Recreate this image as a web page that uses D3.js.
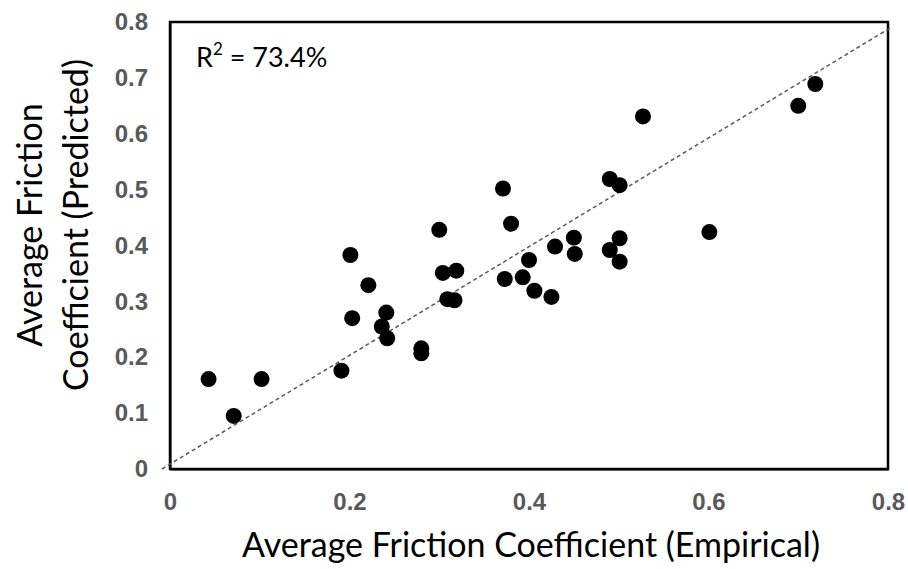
<!DOCTYPE html>
<html>
<head>
<meta charset="utf-8">
<script src="https://cdn.jsdelivr.net/npm/d3@7"></script>
<style>
  html, body { margin: 0; padding: 0; background: #fff; }
  svg { display: block; }
</style>
</head>
<body>
<svg id="chart" width="908" height="569"></svg>
<script>
// Empirical vs predicted average friction coefficient
const empirical = [
  0.043, 0.071, 0.102, 0.191, 0.201, 0.203, 0.221, 0.236, 0.241, 0.242,
  0.280, 0.280, 0.300, 0.304, 0.319, 0.309, 0.317, 0.371, 0.380, 0.373,
  0.400, 0.393, 0.406, 0.425, 0.429, 0.450, 0.451, 0.490, 0.501, 0.501,
  0.490, 0.501, 0.527, 0.601, 0.700, 0.719
];
const predicted = [
  0.161, 0.095, 0.161, 0.176, 0.383, 0.270, 0.329, 0.255, 0.280, 0.234,
  0.216, 0.207, 0.428, 0.351, 0.355, 0.304, 0.302, 0.502, 0.439, 0.340,
  0.374, 0.343, 0.319, 0.308, 0.398, 0.414, 0.385, 0.519, 0.508, 0.413,
  0.392, 0.371, 0.631, 0.424, 0.650, 0.689
];
// fitted dashed line end points
const fitLine = [[-0.009, 0.0], [0.802, 0.789]];
const xTicks = [0, 0.2, 0.4, 0.6, 0.8];
const yTicks = [0, 0.1, 0.2, 0.3, 0.4, 0.5, 0.6, 0.7, 0.8];
const rSquared = "73.4%";

const svg = d3.select("#chart");
const plot = { left: 170, right: 888, top: 22, bottom: 469 };

const x = d3.scaleLinear().domain([0, 0.8]).range([plot.left, plot.right]);
const y = d3.scaleLinear().domain([0, 0.8]).range([plot.bottom, plot.top]);

const tickFont = "'Liberation Sans', Arial, sans-serif";
const titleFont = "Lato, 'Open Sans', sans-serif";
const fmt = d => d === 0 ? "0" : d3.format(".1f")(d);

// x axis
const xAxis = svg.append("g")
    .attr("transform", `translate(0,${plot.bottom})`)
    .call(d3.axisBottom(x).tickValues(xTicks).tickSize(0).tickPadding(24).tickFormat(fmt));
xAxis.select(".domain").attr("stroke", "#7f7f7f").attr("stroke-width", 3);
xAxis.selectAll("text")
    .attr("font-family", tickFont).attr("font-weight", "bold")
    .attr("font-size", 24).attr("fill", "#595959");

// y axis
const yAxis = svg.append("g")
    .attr("transform", `translate(${plot.left},0)`)
    .call(d3.axisLeft(y).tickValues(yTicks).tickSize(0).tickPadding(22).tickFormat(fmt));
yAxis.select(".domain").attr("stroke", "#7f7f7f").attr("stroke-width", 3);
yAxis.selectAll("text")
    .attr("font-family", tickFont).attr("font-weight", "bold")
    .attr("font-size", 24).attr("fill", "#595959");

// plot area border
svg.append("rect")
    .attr("x", plot.left).attr("y", plot.top)
    .attr("width", plot.right - plot.left).attr("height", plot.bottom - plot.top)
    .attr("fill", "none").attr("stroke", "#000").attr("stroke-width", 2.5);

// dashed fit line
svg.append("line")
    .attr("x1", x(fitLine[0][0])).attr("y1", y(fitLine[0][1]))
    .attr("x2", x(fitLine[1][0])).attr("y2", y(fitLine[1][1]))
    .attr("stroke", "#595959").attr("stroke-width", 1.5)
    .attr("stroke-dasharray", "4,3");

// points
svg.append("g").selectAll("circle")
    .data(empirical.map((e, i) => [e, predicted[i]]))
    .join("circle")
    .attr("cx", d => x(d[0]))
    .attr("cy", d => y(d[1]))
    .attr("r", 8)
    .attr("fill", "#000");

// R squared label
const r2 = svg.append("text")
    .attr("x", 196).attr("y", 67)
    .attr("font-family", titleFont).attr("font-size", 27).attr("fill", "#000");
r2.append("tspan").text("R");
r2.append("tspan").attr("font-size", 17).attr("dy", -12).text("2");
r2.append("tspan").attr("dy", 12).text(" = " + rSquared);

// axis titles
svg.append("text")
    .attr("x", 531).attr("y", 557)
    .attr("text-anchor", "middle")
    .attr("font-family", titleFont).attr("font-size", 34).attr("fill", "#000")
    .text("Average Friction Coefficient (Empirical)");

const yTitle = svg.append("text")
    .attr("transform", "translate(0,225) rotate(-90)")
    .attr("text-anchor", "middle")
    .attr("font-family", titleFont).attr("font-size", 34).attr("fill", "#000");
yTitle.append("tspan").attr("x", 0).attr("y", 42).text("Average Friction");
yTitle.append("tspan").attr("x", 0).attr("y", 88).text("Coefficient (Predicted)");
</script>
</body>
</html>
